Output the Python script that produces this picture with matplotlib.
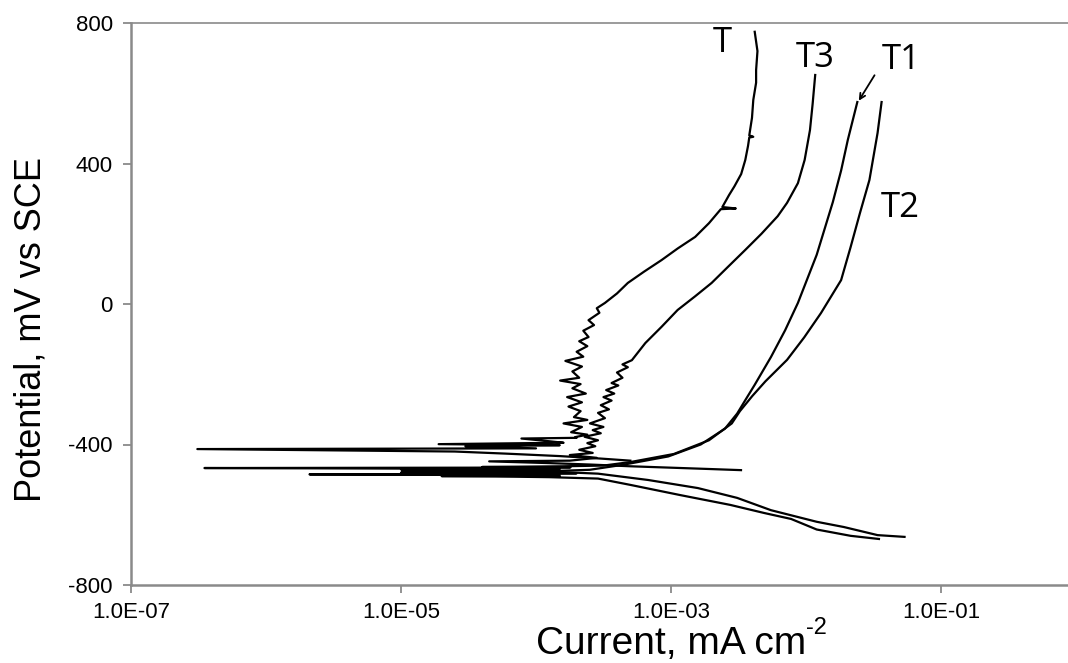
"""Potentiodynamic polarisation curves T, T1, T2, T3."""
import matplotlib
matplotlib.use("Agg")
import matplotlib.pyplot as plt

# current density (mA cm-2) and potential (mV vs SCE)
t_current = [5.0e-4, 3.0e-4, 1.5e-4, 6.0e-5, 2.5e-5, 3.1e-7, 1.0e-4, 3.0e-5, 1.5e-4,
             1.9e-5, 1.6e-4, 1.2e-4, 7.8e-5, 2.0e-4, 1.95e-4, 2.40e-4, 1.82e-4,
             2.19e-4, 1.6e-4, 2.40e-4, 1.91e-4, 2.14e-4, 1.74e-4, 2.19e-4, 1.7e-4,
             2.34e-4, 1.86e-4, 2.14e-4, 1.51e-4, 2.09e-4, 1.86e-4, 2.19e-4, 1.65e-4,
             2.24e-4, 2.0e-4, 2.40e-4, 2.09e-4, 2.45e-4, 2.24e-4, 2.69e-4, 2.45e-4,
             2.95e-4, 2.82e-4, 3.24e-4, 3.98e-4, 4.79e-4, 6.31e-4, 8.51e-4, 1.12e-3,
             1.51e-3, 1.91e-3, 2.34e-3, 3.02e-3, 2.40e-3, 2.69e-3, 2.95e-3, 3.31e-3,
             3.55e-3, 3.72e-3, 3.80e-3, 4.07e-3, 3.80e-3, 3.98e-3, 4.07e-3, 4.27e-3,
             4.27e-3, 4.37e-3, 4.17e-3]
t_potential = [-446, -440, -433, -426, -420, -413, -411, -405, -402,
               -399, -395, -390, -383, -381, -379, -372, -365,
               -350, -340, -330, -322, -305, -292, -280, -265,
               -255, -240, -228, -218, -210, -192, -178, -162,
               -150, -136, -120, -106, -94, -76, -60, -46,
               -25, -12, 3, 30, 60, 92, 125, 158,
               191, 230, 270, 272, 276, 310, 335, 370,
               410, 450, 474, 476, 480, 530, 581, 630,
               666, 720, 775]

t3_current = [3.3e-3, 2.0e-3, 1.0e-3, 5.0e-4, 2.5e-4, 1.26e-4, 4.5e-5, 1.78e-4,
              2.82e-4, 1.78e-4, 2.63e-4, 2.09e-4, 2.75e-4, 2.40e-4, 2.88e-4, 2.29e-4,
              3.02e-4, 2.63e-4, 3.16e-4, 2.51e-4, 3.24e-4, 2.88e-4, 3.47e-4, 3.02e-4,
              3.63e-4, 3.16e-4, 3.80e-4, 3.31e-4, 4.07e-4, 3.63e-4, 4.37e-4, 3.98e-4,
              4.79e-4, 4.37e-4, 5.13e-4, 6.46e-4, 8.51e-4, 1.12e-3, 1.51e-3, 2.0e-3,
              2.63e-3, 3.55e-3, 4.68e-3, 6.17e-3, 7.24e-3, 8.71e-3, 9.77e-3, 1.07e-2,
              1.12e-2, 1.17e-2]
t3_potential = [-473, -470, -466, -462, -457, -453, -448, -446,
                -438, -430, -424, -415, -405, -396, -388, -378,
                -368, -359, -350, -340, -325, -310, -300, -288,
                -275, -265, -255, -245, -232, -225, -210, -195,
                -180, -172, -160, -111, -65, -17, 22, 60,
                105, 154, 200, 250, 288, 344, 410, 495,
                570, 652]

t1_current = [3.47e-2, 2.14e-2, 1.20e-2, 7.76e-3, 4.90e-3, 2.75e-3, 1.17e-3, 5.0e-4,
              2.88e-4, 1.26e-4, 5.0e-5, 2.0e-5, 1.5e-4, 6.0e-5, 2.1e-6, 2.5e-5,
              2.0e-4, 1.0e-5, 6.3e-5, 1.26e-4, 2.5e-4, 4.37e-4, 9.55e-4, 1.66e-3,
              2.51e-3, 3.09e-3, 3.60e-3, 4.17e-3, 5.50e-3, 7.00e-3, 8.71e-3, 1.20e-2,
              1.58e-2, 1.82e-2, 2.04e-2, 2.40e-2]
t1_potential = [-669, -660, -642, -612, -595, -572, -544, -515,
                -497, -493, -491, -490, -489, -487, -485, -484,
                -482, -480, -478, -476, -472, -458, -434, -400,
                -355, -312, -270, -230, -151, -75, 3, 140,
                290, 380, 467, 575]

t2_current = [5.37e-2, 3.39e-2, 1.91e-2, 1.20e-2, 5.50e-3, 3.09e-3, 1.58e-3, 6.76e-4,
              2.88e-4, 1.26e-4, 5.0e-5, 1.0e-5, 1.5e-4, 2.5e-5, 3.5e-7, 3.2e-5,
              1.8e-4, 4.0e-5, 7.9e-5, 1.58e-4, 3.16e-4, 5.0e-4, 1.05e-3, 1.91e-3,
              2.82e-3, 3.24e-3, 4.00e-3, 5.01e-3, 7.24e-3, 9.70e-3, 1.29e-2, 1.82e-2,
              2.14e-2, 2.51e-2, 2.95e-2, 3.39e-2, 3.63e-2]
t2_potential = [-663, -658, -635, -620, -587, -552, -524, -501,
                -483, -477, -473, -471, -470, -469, -467, -466,
                -465, -464, -463, -462, -460, -450, -427, -388,
                -340, -305, -262, -220, -159, -95, -26, 68,
                162, 259, 353, 487, 575]

x_ticks = [1e-7, 1e-5, 1e-3, 1e-1]
x_tick_labels = ["1.0E-07", "1.0E-05", "1.0E-03", "1.0E-01"]
y_ticks = [-800, -400, 0, 400, 800]


def render():
    plt.rcParams["font.family"] = ["Liberation Sans", "DejaVu Sans"]
    plt.rcParams["axes.unicode_minus"] = False
    fig = plt.figure(figsize=(10.68, 6.63), dpi=100)
    # the original is cropped on the right: the axes run on past the edge
    ax = fig.add_axes([131 / 1068, 78 / 663, 1080 / 1068, 562 / 663])

    for cur, pot in [(t_current, t_potential), (t3_current, t3_potential),
                     (t1_current, t1_potential), (t2_current, t2_potential)]:
        ax.plot(cur, pot, color="black", lw=1.6, solid_joinstyle="round")

    ax.set_xscale("log")
    ax.set_xlim(1e-7, 1e1)
    ax.set_ylim(-800, 800)
    ax.set_xticks(x_ticks)
    ax.set_xticklabels(x_tick_labels)
    ax.minorticks_off()
    ax.set_yticks(y_ticks)
    ax.tick_params(labelsize=16, length=6, width=1.2, color="#808080")
    ax.tick_params(axis="y", pad=7)
    ax.tick_params(axis="x", pad=6)

    for side in ["left", "bottom", "top", "right"]:
        ax.spines[side].set_color("#8a8a8a")
        ax.spines[side].set_linewidth(1.8)
    ax.spines["top"].set_linewidth(1.2)

    xl = ax.text(0.5, -0.122, "Current, mA cm", transform=ax.transAxes,
                 fontsize=28, ha="center", va="baseline")
    ax.annotate("-2", xy=(1.0, 0.62), xycoords=xl, fontsize=17,
                ha="left", va="bottom")
    ax.set_ylabel("Potential, mV vs SCE", fontsize=26)
    ax.yaxis.label.set_verticalalignment("center")
    ax.yaxis.set_label_coords(-0.093, 0.455)

    lbl = dict(fontsize=25, family=["Open Sans", "DejaVu Sans"], ha="center", va="center")
    ax.text(2.4e-3, 744, "T", **lbl)
    ax.text(1.17e-2, 700, "T3", **lbl)
    ax.text(5.1e-2, 695, "T1", **lbl)
    ax.text(5.0e-2, 273, "T2", **lbl)
    ax.annotate("", xy=(2.4e-2, 572), xytext=(3.3e-2, 658),
                arrowprops=dict(arrowstyle="->", lw=1.3, color="black"))

    fig.savefig("out.png", dpi=100)
    plt.close(fig)


if __name__ == "__main__":
    render()
